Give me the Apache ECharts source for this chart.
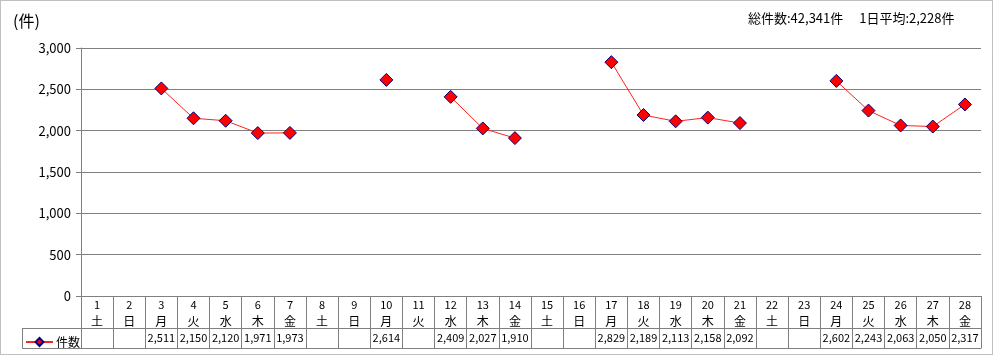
<!DOCTYPE html>
<html>
<head>
<meta charset="utf-8">
<script src="https://cdn.jsdelivr.net/npm/echarts@6/dist/echarts.min.js"></script>
<style>
html,body{margin:0;padding:0;background:#fff;}
#c{width:994px;height:356px;}
</style>
</head>
<body>
<div id="c"></div>
<script>
const days = ['1','2','3','4','5','6','7','8','9','10','11','12','13','14','15','16','17','18','19','20','21','22','23','24','25','26','27','28'];
const weekdays = ['土','日','月','火','水','木','金','土','日','月','火','水','木','金','土','日','月','火','水','木','金','土','日','月','火','水','木','金'];
const counts = [null,null,2511,2150,2120,1971,1973,null,null,2614,null,2409,2027,1910,null,null,2829,2189,2113,2158,2092,null,null,2602,2243,2063,2050,2317];
const yTicks = [0,500,1000,1500,2000,2500,3000];
const seriesName = '件数';

const fmt = v => v == null ? '' : v.toLocaleString('en-US');
const valid = counts.filter(v => v != null);
const total = valid.reduce((a,b)=>a+b,0);
const avg = Math.floor(total / valid.length);
const FONT = '"Noto Sans CJK JP", sans-serif';

const chart = echarts.init(document.getElementById('c'));
const L = 81, R = 981, TOP = 48, BOT = 296;
chart.setOption({
  animation: false,
  textStyle: {fontFamily: FONT},
  title: [
    {text: '(件)', left: 8, top: 8, textStyle: {fontSize: 16, fontWeight: 'normal', color: '#000', fontFamily: FONT}},
    {text: '総件数:' + fmt(total) + '件　 1日平均:' + fmt(avg) + '件', left: 743, top: 7,
     textStyle: {fontSize: 13, fontWeight: 'normal', color: '#000', fontFamily: FONT}}
  ],
  legend: {
    data: [seriesName], left: 20, top: 331, itemWidth: 27, itemHeight: 10, itemGap: 4,
    textStyle: {fontSize: 12, color: '#000', fontFamily: FONT, padding: [0,0,0,-2]},
    selectedMode: false
  },
  grid: {left: L, right: 994 - R, top: TOP, bottom: 356 - BOT, containLabel: false},
  xAxis: [
    {
      type: 'category', data: days, boundaryGap: true, position: 'bottom',
      axisLine: {show: true, lineStyle: {color: '#808080', width: 1}},
      axisTick: {show: true, interval: 0, length: 52, lineStyle: {color: '#808080'}},
      axisLabel: {
        interval: 0, margin: 1, fontSize: 11, color: '#000', lineHeight: 16,
        formatter: (v, i) => '{d|' + v + '}\n{w|' + weekdays[i] + '}',
        rich: {d: {fontSize: 11, lineHeight: 16}, w: {fontSize: 12, lineHeight: 16}}
      }
    },
    {
      type: 'category', data: counts.map(fmt), boundaryGap: true, position: 'bottom', offset: 32,
      axisLine: {show: true, lineStyle: {color: '#808080', width: 1}},
      axisTick: {show: false},
      axisLabel: {interval: 0, margin: 4, fontSize: 11, color: '#000'}
    },
    {
      type: 'category', data: days, boundaryGap: true, position: 'bottom', offset: 52,
      axisLine: {show: true, lineStyle: {color: '#808080', width: 1}},
      axisTick: {show: false}, axisLabel: {show: false}
    }
  ],
  yAxis: {
    type: 'value', min: 0, max: 3000, interval: 500,
    axisLine: {show: true, lineStyle: {color: '#808080'}},
    axisTick: {show: true, length: 5, lineStyle: {color: '#808080'}},
    axisLabel: {margin: 10, fontSize: 13, color: '#000', formatter: v => fmt(v)},
    splitLine: {show: true, lineStyle: {color: '#808080', width: 1}}
  },
  series: [{
    name: seriesName, type: 'line', data: counts, xAxisIndex: 0, connectNulls: false,
    symbol: 'diamond', symbolSize: 13, showAllSymbol: true,
    lineStyle: {color: '#ff2020', width: 1},
    itemStyle: {color: '#ff0000', borderColor: '#000080', borderWidth: 1}
  }],
  graphic: [
    {type: 'rect', shape: {x: 0.5, y: 0.5, width: 992, height: 354},
     style: {fill: null, stroke: '#808080', lineWidth: 1, lineDash: [1,1]}, silent: true},
    {type: 'line', shape: {x1: 22, y1: 328.5, x2: L, y2: 328.5}, style: {stroke: '#808080', lineWidth: 1}, silent: true},
    {type: 'line', shape: {x1: 22, y1: 348.5, x2: L, y2: 348.5}, style: {stroke: '#808080', lineWidth: 1}, silent: true},
    {type: 'line', shape: {x1: 22.5, y1: 328, x2: 22.5, y2: 349}, style: {stroke: '#808080', lineWidth: 1}, silent: true}
  ]
});
</script>
</body>
</html>
